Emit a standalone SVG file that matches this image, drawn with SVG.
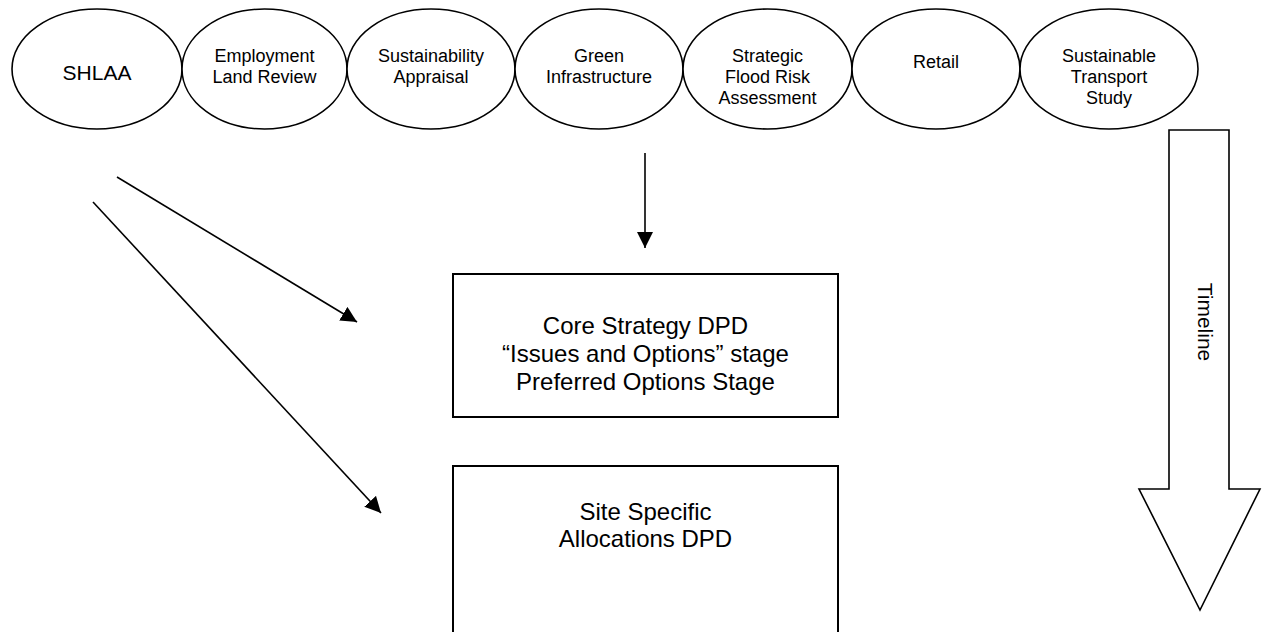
<svg xmlns="http://www.w3.org/2000/svg" width="1266" height="632" viewBox="0 0 1266 632">
  <defs>
    <style>
      .bubble { fill: #ffffff; stroke: #000000; stroke-width: 1.6; }
      .box { fill: #ffffff; stroke: #000000; stroke-width: 2; }
      .link { fill: none; stroke: #000000; stroke-width: 1.6; }
      .lbl { font-family: "Liberation Sans", Arial, sans-serif; font-size: 18px; fill: #000000; text-anchor: middle; }
      .lbl-big { font-size: 21px; }
      .box-lbl { font-family: "Liberation Sans", Arial, sans-serif; font-size: 24px; fill: #000000; text-anchor: middle; }
      .timeline { fill: #ffffff; stroke: #000000; stroke-width: 1.6; stroke-linejoin: miter; }
    </style>
    <marker id="head" viewBox="0 0 16 16" refX="16" refY="8" markerWidth="16" markerHeight="16" markerUnits="userSpaceOnUse" orient="auto">
      <path d="M0,0 L16,8 L0,16 Z" fill="#000000"/>
    </marker>
  </defs>

  <!-- evidence-base studies -->
  <g id="shlaa">
    <ellipse class="bubble" cx="97" cy="69" rx="85" ry="60"/>
    <text class="lbl lbl-big" x="97" y="80">SHLAA</text>
  </g>
  <g id="employment-land-review">
    <ellipse class="bubble" cx="264.5" cy="69" rx="82.5" ry="60"/>
    <text class="lbl" x="264.5" y="62">Employment</text>
    <text class="lbl" x="264.5" y="83">Land Review</text>
  </g>
  <g id="sustainability-appraisal">
    <ellipse class="bubble" cx="431" cy="69" rx="84" ry="60"/>
    <text class="lbl" x="431" y="62">Sustainability</text>
    <text class="lbl" x="431" y="83">Appraisal</text>
  </g>
  <g id="green-infrastructure">
    <ellipse class="bubble" cx="599" cy="69" rx="84" ry="60"/>
    <text class="lbl" x="599" y="62">Green</text>
    <text class="lbl" x="599" y="83">Infrastructure</text>
  </g>
  <g id="flood-risk">
    <ellipse class="bubble" cx="767.5" cy="69" rx="84.5" ry="60"/>
    <text class="lbl" x="767.5" y="62">Strategic</text>
    <text class="lbl" x="767.5" y="83">Flood Risk</text>
    <text class="lbl" x="767.5" y="104">Assessment</text>
  </g>
  <g id="retail">
    <ellipse class="bubble" cx="936" cy="69" rx="84" ry="60"/>
    <text class="lbl" x="936" y="68">Retail</text>
  </g>
  <g id="transport-study">
    <ellipse class="bubble" cx="1109" cy="69" rx="89" ry="60"/>
    <text class="lbl" x="1109" y="62">Sustainable</text>
    <text class="lbl" x="1109" y="83">Transport</text>
    <text class="lbl" x="1109" y="104">Study</text>
  </g>

  <!-- development plan documents -->
  <g id="core-strategy">
    <rect class="box" x="453" y="274" width="385" height="143"/>
    <text class="box-lbl" x="645.5" y="334">Core Strategy DPD</text>
    <text class="box-lbl" x="645.5" y="362">“Issues and Options” stage</text>
    <text class="box-lbl" x="645.5" y="390">Preferred Options Stage</text>
  </g>
  <g id="site-allocations">
    <rect class="box" x="453" y="466" width="385" height="180"/>
    <text class="box-lbl" x="645.5" y="520">Site Specific</text>
    <text class="box-lbl" x="645.5" y="547">Allocations DPD</text>
  </g>

  <!-- timeline arrow -->
  <g id="timeline">
    <path class="timeline" d="M1169,130 L1229,130 L1229,489 L1260,489 L1200,610 L1139,489 L1169,489 Z"/>
    <text class="box-lbl" style="font-size:21px" transform="translate(1198,322) rotate(90)">Timeline</text>
  </g>

  <!-- connectors -->
  <g id="connectors">
    <line class="link" x1="645" y1="153" x2="645" y2="248" marker-end="url(#head)"/>
    <line class="link" x1="117" y1="177" x2="357" y2="322" marker-end="url(#head)"/>
    <line class="link" x1="93" y1="202" x2="381" y2="513" marker-end="url(#head)"/>
  </g>
</svg>
